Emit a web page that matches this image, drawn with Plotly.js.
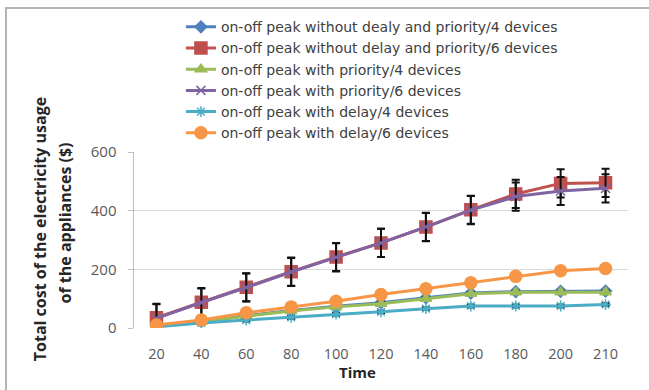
<!DOCTYPE html>
<html>
<head>
<meta charset="utf-8">
<script src="https://cdn.plot.ly/plotly-3.0.1.min.js"></script>
<style>
html,body{margin:0;padding:0;background:#fff;}
#frame{position:absolute;left:5px;top:7px;width:700px;height:500px;border-left:2px solid #b4b4b4;border-top:2px solid #b4b4b4;pointer-events:none;}
#chart{width:649px;height:390px;}
</style>
</head>
<body>
<div id="chart"></div>
<div id="frame"></div>
<script>
var times = ['20','40','60','80','100','120','140','160','180','200','210'];
var noDelayNoPrio4 = [9, 23, 42, 60, 74, 86, 103, 119, 124, 125, 126];
var noDelayNoPrio6 = [35, 88, 139, 192, 242, 290, 344, 403, 457, 493, 495];
var prio4 = [7, 21, 40, 58, 72, 83, 100, 117, 122, 122, 122];
var prio6 = [33, 87, 138, 191, 241, 290, 345, 402, 448, 467, 476];
var delay4 = [4, 17, 27, 36, 47, 55, 66, 75, 75, 75, 80];
var delay6 = [10, 27, 52, 72, 91, 114, 134, 154, 176, 195, 203];
var errBig = [48, 48, 48, 48, 48, 48, 48, 48, 48, 48, 48];
var errSmall = [5, 5, 5, 5, 5, 5, 5, 5, 5, 5, 5];
var yTicks = [0, 200, 400, 600];
var yTitle1 = 'Total cost of the electricity usage';
var yTitle2 = 'of the appliances ($)';
var xTitle = 'Time';

var names = [
  'on-off peak without dealy and priority/4 devices',
  'on-off peak without delay and priority/6 devices',
  'on-off peak with priority/4 devices',
  'on-off peak with priority/6 devices',
  'on-off peak with delay/4 devices',
  'on-off peak with delay/6 devices'
];
var series = [noDelayNoPrio4, noDelayNoPrio6, prio4, prio6, delay4, delay6];
var colors = ['#4F81BD', '#C0504D', '#9BBB59', '#8064A2', '#4BACC6', '#F79646'];
var symbols = ['diamond', 'square', 'triangle-up', 'x-thin-open', 'asterisk-open', 'circle'];
var sizes = [9, 12, 10, 9, 9, 12];
var errs = [errSmall, errBig, errSmall, errBig, errSmall, errSmall];

var traces = series.map(function(s, i){
  return {
    x: times, y: s, name: names[i], type: 'scatter', mode: 'lines+markers',
    line: {color: colors[i], width: 3},
    marker: {symbol: symbols[i], size: sizes[i], color: colors[i], line: {color: colors[i], width: 1.5}},
    error_y: {type: 'data', array: errs[i], visible: true, color: '#111', thickness: 2, width: 4}
  };
});

var layout = {
  width: 649, height: 390,
  margin: {l: 134, r: 21, t: 150, b: 62},
  paper_bgcolor: '#fff', plot_bgcolor: '#fff',
  font: {family: '"Open Sans", sans-serif', color: '#404040', size: 13},
  showlegend: true,
  legend: {x: 0.095, y: 1.80, xanchor: 'left', yanchor: 'top', bgcolor: 'rgba(0,0,0,0)',
           font: {family: '"DejaVu Sans", sans-serif', size: 14, color: '#404040'}, tracegroupgap: 0},
  xaxis: {
    type: 'category', range: [-0.5, 10.5], tickvals: times, ticktext: times,
    showgrid: false, showline: false, zeroline: false,
    ticks: 'outside', ticklen: 13, tickcolor: 'rgba(0,0,0,0)',
    tickfont: {size: 14.5, color: '#595959'}
  },
  yaxis: {
    range: [0, 600], tickvals: yTicks, ticktext: yTicks.map(String),
    showgrid: true, gridcolor: '#d9d9d9', gridwidth: 1.5,
    showline: true, linecolor: '#bfbfbf', linewidth: 1.5,
    ticks: 'outside', ticklen: 5, tickcolor: '#bfbfbf', zeroline: false,
    ticklabelstandoff: 8,
    tickfont: {size: 15, color: '#595959'}
  },
  annotations: [
    {text: '<b>' + yTitle1 + '</b>', xref: 'paper', yref: 'paper', x: -0.19, y: 0.562,
     xanchor: 'center', yanchor: 'middle', textangle: -90, showarrow: false,
     font: {size: 16, color: '#262626'}},
    {text: '<b>' + yTitle2 + '</b>', xref: 'paper', yref: 'paper', x: -0.139, y: 0.596,
     xanchor: 'center', yanchor: 'middle', textangle: -90, showarrow: false,
     font: {size: 16, color: '#262626'}},
    {text: '<b>' + xTitle + '</b>', xref: 'paper', yref: 'paper', x: 0.453, y: -0.25,
     xanchor: 'center', yanchor: 'middle', showarrow: false,
     font: {size: 15, color: '#262626'}}
  ]
};

Plotly.newPlot('chart', traces, layout, {displayModeBar: false, staticPlot: true});
</script>
</body>
</html>
